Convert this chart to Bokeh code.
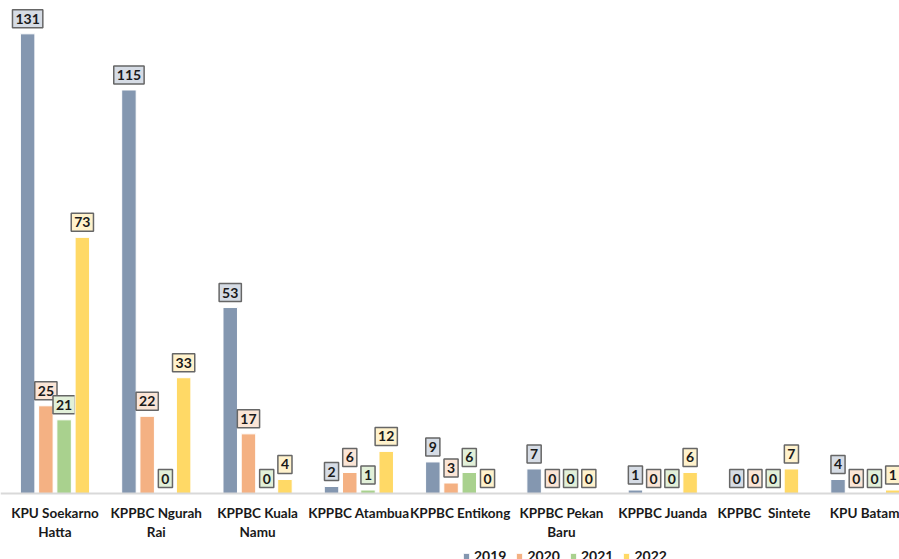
from bokeh.plotting import figure
from bokeh.models import ColumnDataSource, Range1d, FixedTicker, Legend, LegendItem
from bokeh.transform import dodge
from bokeh.core.properties import value
from bokeh.embed import file_html
from bokeh.resources import INLINE

categories = ["KPU Soekarno\nHatta", "KPPBC Ngurah\nRai", "KPPBC Kuala\nNamu", "KPPBC Atambua",
              "KPPBC Entikong", "KPPBC Pekan\nBaru", "KPPBC Juanda", "KPPBC\u00a0 Sintete", "KPU Batam"]
years = ["2019", "2020", "2021", "2022"]
v2019 = [131, 115, 53, 2, 9, 7, 1, 0, 4]
v2020 = [25, 22, 17, 6, 3, 0, 0, 0, 0]
v2021 = [21, 0, 0, 1, 6, 0, 0, 0, 0]
v2022 = [73, 33, 4, 12, 0, 0, 6, 7, 1]
series = [v2019, v2020, v2021, v2022]

bar_colors = ["#8497b0", "#f4b183", "#a9d18e", "#ffd966"]
box_colors = ["#d6dce5", "#fbe5d6", "#e2f0d9", "#fff2cc"]
offsets = [-0.27, -0.09, 0.09, 0.27]

FONT = value("Lato")
x_idx = list(range(len(categories)))

p = figure(width=899, height=559, output_backend="svg", toolbar_location=None,
           x_range=Range1d(-0.538, 8.337), y_range=Range1d(-18.8, 140.5),
           y_axis_location=None, min_border_left=0, min_border_right=0,
           min_border_top=0, min_border_bottom=0, outline_line_color=None)
p.xgrid.visible = False
p.ygrid.visible = False

items = []
for yr, vals, c, bc, off in zip(years, series, bar_colors, box_colors, offsets):
    s = ColumnDataSource(dict(x=x_idx, v=vals, t=[str(v) for v in vals]))
    xd = dodge('x', off, range=p.x_range)
    r = p.vbar(x=xd, top='v', bottom=0, width=0.143, source=s, fill_color=c,
               line_color="white", line_width=1)
    p.text(x=xd, y='v', text='t', source=s, text_align="center", text_baseline="bottom",
           y_offset=-6, text_font=FONT, text_font_style="bold", text_font_size="14px",
           text_color="#1a1a1a", background_fill_color=bc, border_line_color="#666666",
           border_line_width=1.5, padding=(3, 4))
    items.append(LegendItem(label=yr, renderers=[r]))

ax = p.xaxis[0]
ax.fixed_location = 0
ax.ticker = FixedTicker(ticks=x_idx)
ax.major_label_overrides = {i: c for i, c in zip(x_idx, categories)}
ax.major_tick_line_color = None
ax.minor_tick_line_color = None
ax.major_tick_out = 0
ax.major_tick_in = 0
ax.major_label_standoff = 11
ax.axis_line_color = "#d9d9d9"
ax.axis_line_width = 2
ax.major_label_text_font = "Lato"
ax.major_label_text_font_style = "bold"
ax.major_label_text_font_size = "13.5px"
ax.major_label_text_color = "#1a1a1a"

legend = Legend(items=items, orientation="horizontal", location=(462, -5),
                glyph_width=8, glyph_height=8, label_text_font="Lato",
                label_text_font_style="bold", label_text_font_size="14px",
                label_text_color="#1a1a1a", spacing=9, padding=0, margin=0,
                border_line_color=None, background_fill_alpha=0, label_standoff=4)
p.add_layout(legend)

open("out.html", "w").write(file_html(p, INLINE))
